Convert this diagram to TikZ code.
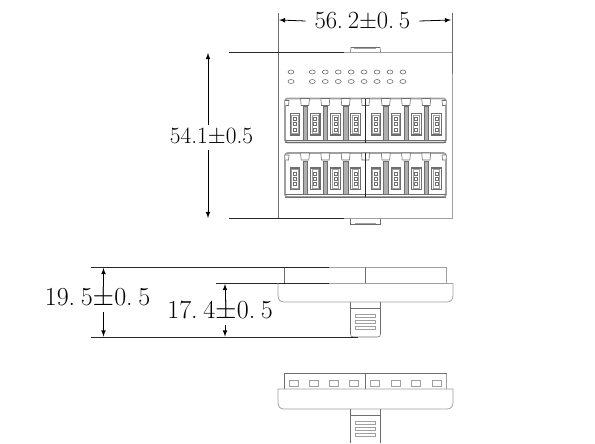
\documentclass[tikz,border=0pt]{standalone}
\usepackage{amsmath}
\usepackage{amssymb}
\usetikzlibrary{arrows}
\tikzset{
  outline/.style={color={rgb, 255:red, 160; green, 160; blue, 160 },line width=0.6},
  thinline/.style={color={rgb, 255:red, 110; green, 110; blue, 110 },line width=0.45},
  dimline/.style={color={rgb, 255:red, 40; green, 40; blue, 40 },line width=0.7},
  dimarrow/.style={line width=0.6,-latex},
  dimtext/.style={anchor=center,inner sep=0pt,font=\fontsize{19.5}{20}\selectfont},
}
\newcommand{\dg}[2]{\makebox[#1]{#2}}
\newcommand{\tolval}[5]{\dg{#1}{#2}\dg{#1}{#3}\makebox[#1][l]{.}\dg{#1}{#4}$\pm$\dg{#1}{0}\makebox[#1][l]{.}\dg{#1}{#5}}
\begin{document}
\begin{tikzpicture}[x=0.75pt,y=0.75pt,yscale=-1,xscale=1]
\useasboundingbox (0,0) rectangle (595,443);

%Named points of the dimension lines
\coordinate (widthL) at (279,20);
\coordinate (widthR) at (451,20);
\coordinate (heightT) at (208,53);
\coordinate (heightB) at (208,218);
\coordinate (sideT) at (103.5,268);
\coordinate (sideB) at (103.5,336.5);
\coordinate (bodyT) at (225,284);
\coordinate (bodyB) at (225,336.5);

%Shape: Front panel
\draw [outline] (278.5,52) -- (452,52) -- (452,218.5) -- (278.5,218.5) -- cycle ;
%Straight Lines: extension lines
\draw [thinline] (278.5,13) -- (278.5,218.5) ;
\draw [thinline,line width=0.7] (452,13) -- (452,73) ;
\draw [dimline] (229,52) -- (344,52) ;
\draw [dimline] (229,218.5) -- (344,218.5) ;
%Shape: Top and bottom tabs
\draw [thinline] (350.5,52) -- (351,47.5) -- (380,47.5) -- (380.5,52) ;
\draw [outline] (354,48.8) -- (376,48.8) ;
\draw [thinline] (350.5,218.5) -- (350.5,224) -- (380.5,224) -- (380.5,218.5) ;
\draw [outline,line width=1] (355,223.2) -- (376,223.2) ;

%Shape: LEDs
\foreach \ly in {72,81.5} {
  \draw [thinline] (291,\ly) ellipse (3 and 2) ;
  \foreach \lk in {0,...,7}
    \draw [thinline] (312.3+12.95*\lk,\ly) ellipse (3 and 2) ;
}

%Shape: Terminal blocks
\foreach \by in {98.5,153} {
  \draw [outline,line width=1.3,rounded corners=2] (285,\by) rectangle (446,\by+44) ;
  \draw [thinline,line width=0.6] (285,\by+41.5) -- (446,\by+41.5) ;
  \draw [thinline,line width=0.6] (285,\by+44) -- (446,\by+44) ;
  %bars and clips
  \foreach \bx in {305,325.3,345.6,385.8,406,426.2} {
    \draw [thinline,fill={rgb, 255:red, 175; green, 175; blue, 175 }] (\bx-2.2,\by+8) rectangle (\bx+2.2,\by+41.5) ;
    \draw [thinline,fill=white] (\bx-4.5,\by) -- (\bx+4.5,\by) -- (\bx+3.8,\by+7) -- (\bx-3.8,\by+7) -- cycle ;
  }
  \draw [thinline,fill=white] (285,\by+2) -- (289,\by+2) -- (288.5,\by+7) -- (285.5,\by+7) ;
  \draw [thinline,fill=white] (446,\by+2) -- (442,\by+2) -- (442.5,\by+7) -- (445.5,\by+7) ;
  \draw [thinline,fill=white] (361.5,\by) -- (369.5,\by) -- (369,\by+7) -- (362,\by+7) -- cycle ;
  \draw [dimline,line width=0.55] (365.5,\by) -- (365.5,\by+44) ;
  %connectors
  \foreach \cx in {295,315.2,335.5,355.7,375.9,396.1,416.3,436.5} {
    \draw [thinline,line width=0.8] (\cx-4.8,\by+15) rectangle (\cx+4.8,\by+36.5) ;
    \draw [outline,line width=0.7] (\cx-3.2,\by+16.5) rectangle (\cx+3.2,\by+35) ;
    \foreach \cy in {20.5,25.8,31}
      \draw [thinline,line width=0.5] (\cx-1.5,\by+\cy-1.5) rectangle (\cx+1.5,\by+\cy+1.5) ;
  }
}

%Shape: Side view
\draw [outline] (284,267) -- (446.5,267) -- (446.5,283) ;
\draw [thinline] (284,267) -- (284,283) ;
\draw [thinline] (365.5,267) -- (365.5,283) ;
\draw [dimline] (91,267) -- (329,267) ;
\draw [dimline] (216,283) -- (329,283) ;
\draw [outline] (329,283) -- (453,283) ;
\draw [outline] (278,283) -- (278,295) .. controls (278,299.5) and (280,302) .. (284,302) -- (447,302) .. controls (451,302) and (453,299.5) .. (453,295) -- (453,283) ;
%Shape: Side view clip
\draw [thinline] (350.5,302) -- (350.5,334) .. controls (350.5,336) and (351.5,337) .. (353.5,337) -- (377.5,337) .. controls (379.5,337) and (380.5,336) .. (380.5,334) -- (380.5,302) ;
\draw [thinline] (350.5,308) -- (380.5,308) ;
\foreach \sy in {314.5,320.5,326}
  \draw [outline] (355,\sy) rectangle (375.5,\sy+3.2) ;
\draw [dimline] (91,337) -- (358,337) ;

%Shape: Bottom view
\draw [outline] (284,373) -- (446.5,373) -- (446.5,389) ;
\draw [thinline] (284,373) -- (284,389) ;
\draw [thinline] (284,373) -- (446.5,373) ;
\draw [thinline] (365.5,373) -- (365.5,389) ;
\draw [outline] (278,389) -- (453,389) -- (453,402) .. controls (453,406.5) and (451,409) .. (447,409) -- (284,409) .. controls (280,409) and (278,406.5) .. (278,402) -- cycle ;
\foreach \qx in {293.5,313.5,334,354,375,396,416,436.5}
  \draw [outline] (\qx-4.5,380) rectangle (\qx+4.5,386) ;
%Shape: Bottom view clip
\draw [thinline] (350.5,409) -- (350.5,443) ;
\draw [thinline] (380.5,409) -- (380.5,443) ;
\draw [thinline] (350.5,415) -- (380.5,415) ;
\foreach \sy in {421,427,433}
  \draw [outline] (355,\sy) rectangle (375.5,\sy+3) ;

% Text Node
\node [dimtext,font=\fontsize{18.5}{19}\selectfont] (widthlabel) at (362.5,21) {\tolval{8.3pt}{5}{6}{2}{5}};
% Text Node
\node [dimtext,font=\fontsize{17.5}{18}\selectfont] (heightlabel) at (211.5,137) {54.1$\pm$0.5};
% Text Node
\node [dimtext] (sidelabel) at (97.5,298) {\tolval{9pt}{1}{9}{5}{5}};
% Text Node
\node [dimtext] (bodylabel) at (220,310.5) {\tolval{9pt}{1}{7}{4}{5}};

%Straight Lines: dimension arrows
\draw [dimarrow] (widthlabel.west) ++(-9,0) -- (widthL) ;
\draw [dimarrow] (widthlabel.east) ++(9,0) -- (widthR) ;
\draw [dimarrow] (heightlabel.north -| heightT) ++(0,-3) -- (heightT) ;
\draw [dimarrow] (heightlabel.south -| heightB) ++(0,4) -- (heightB) ;
\draw [dimarrow] (sidelabel.north -| sideT) ++(0,-1) -- (sideT) ;
\draw [dimarrow] (sidelabel.south -| sideB) ++(0,4) -- (sideB) ;
\draw [dimarrow] (bodylabel.north -| bodyT) ++(0,1) -- (bodyT) ;
\draw [dimarrow] (bodylabel.south -| bodyB) ++(0,4) -- (bodyB) ;
\end{tikzpicture}
\end{document}
